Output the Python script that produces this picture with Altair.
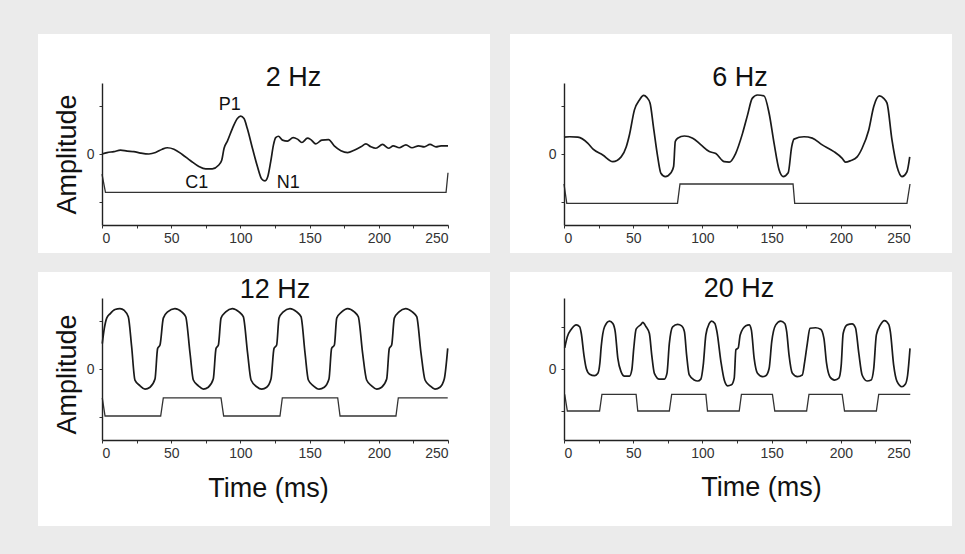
import altair as alt
import pandas as pd

FONT = "Liberation Sans"

# ---------------- data ----------------
# 2 Hz response
t2 = [0, 3.7, 8.6, 13.4, 18.2, 23, 27.9, 33.9, 38.7, 43.5, 47.2, 52, 58, 64, 70, 74.9, 79.7, 84, 86.5, 88.2,
      90.6, 94.2, 97.8, 100.2, 102.6, 105, 108.7, 112.3, 115.4, 117.8, 119.8, 121.9, 123.9, 125.5, 127.5, 130.4,
      134, 138.1, 141.2, 144.4, 148.5, 150.9, 154.5, 158.8, 163.7, 167.8, 172.6, 177.5, 182.2, 187.1, 190.7,
      194.3, 197.9, 202.7, 207.1, 210.4, 214.8, 219.6, 224, 228.8, 232.8, 237, 241.3, 245, 250]
v2 = [0.0, 0.03, 0.05, 0.08, 0.06, 0.05, 0.02, 0.0, 0.03, 0.10, 0.13, 0.10, -0.01, -0.14, -0.26, -0.31, -0.31,
      -0.24, -0.13, 0.12, 0.27, 0.53, 0.74, 0.79, 0.74, 0.53, 0.12, -0.26, -0.52, -0.56, -0.47, -0.16, 0.19, 0.34,
      0.37, 0.29, 0.27, 0.34, 0.31, 0.24, 0.33, 0.30, 0.21, 0.29, 0.30, 0.17, 0.07, 0.03, 0.08, 0.15, 0.21, 0.15,
      0.12, 0.20, 0.12, 0.17, 0.13, 0.19, 0.13, 0.17, 0.15, 0.20, 0.15, 0.17, 0.17]
st2 = [0, 2.5, 248.6, 250]
sv2 = [-0.42, -0.80, -0.80, -0.39]

# 6 Hz response
t6 = [0, 4, 10, 17.3, 21, 28, 35.3, 41.3, 45, 47.3, 50.9, 54.5, 57.6, 59.8, 62.2, 64.6, 67.7, 70, 73.2, 77.3,
      79.2, 80.4, 82.1, 87, 93, 99, 105, 109.7, 115.8, 119.4, 124, 129, 132.6, 136, 139.8, 144.6, 148.2, 151.8,
      155.4, 158.3, 162, 164.5, 166.2, 173.4, 179.4, 186.6, 195, 201, 203.4, 207, 211.8, 215.4, 220.2, 223.8,
      227.9, 231, 233.4, 237, 240.6, 244.2, 247.8, 249.8]
v6 = [0.35, 0.36, 0.35, 0.22, 0.10, -0.02, -0.16, -0.06, 0.15, 0.40, 0.92, 1.125, 1.22, 1.18, 1.06, 0.57, -0.06,
      -0.40, -0.47, -0.39, -0.26, 0.26, 0.33, 0.375, 0.33, 0.19, 0.05, 0.01, -0.16, -0.17, 0.01, 0.43, 0.81, 1.16,
      1.23, 1.21, 0.85, 0.22, -0.33, -0.47, -0.39, 0.15, 0.31, 0.36, 0.33, 0.19, 0.05, -0.09, -0.17, -0.14, -0.06,
      0.12, 0.5, 0.99, 1.21, 1.16, 1.06, 0.29, -0.26, -0.47, -0.37, -0.06]
st6 = [0, 2, 82, 83.8, 165.5, 166.7, 247.8, 250]
sv6 = [-0.625, -1.03, -1.03, -0.625, -0.625, -1.03, -1.03, -0.625]

# 12 Hz response
t12 = [0.2, 1.7, 3.4, 5.8, 9.4, 13, 16.1, 19, 21.4, 23.8, 27.5, 31.1, 34.7, 38.3, 40.2, 41.9, 44.3, 47.4, 52.7,
       57.6, 60.5, 63.6, 66, 69.6, 73.2, 76.8, 80.4, 82.4, 84.1, 86, 89.4, 94.2, 99, 102.1, 105.2, 107.7, 111.8,
       115.4, 119, 122.1, 124.3, 126.2, 127.9, 131, 135.8, 140.7, 143.8, 146.7, 149.1, 152.7, 156.8, 160.6, 164,
       165.9, 167.9, 169.6, 173.2, 177.5, 182.3, 185.2, 188.3, 191.2, 194.8, 198.5, 202.1, 205.7, 207.6, 209.3,
       211.2, 214.6, 219.4, 224.2, 227.4, 230.5, 233.4, 237, 240.6, 244.2, 247.3, 249.8]
v12 = [0.53, 0.85, 1.06, 1.15, 1.24, 1.26, 1.22, 1.09, 0.47, -0.23, -0.35, -0.42, -0.38, -0.21, 0.43, 0.50, 1.06,
       1.19, 1.26, 1.19, 1.09, 0.33, -0.23, -0.35, -0.42, -0.38, -0.21, 0.43, 0.50, 1.06, 1.19, 1.26, 1.19, 1.09,
       0.33, -0.23, -0.37, -0.42, -0.38, -0.21, 0.43, 0.50, 1.06, 1.19, 1.26, 1.19, 1.09, 0.33, -0.23, -0.35,
       -0.42, -0.38, -0.21, 0.43, 0.50, 1.06, 1.19, 1.26, 1.19, 1.09, 0.33, -0.23, -0.35, -0.42, -0.38, -0.21,
       0.43, 0.50, 1.06, 1.19, 1.26, 1.19, 1.09, 0.33, -0.23, -0.35, -0.42, -0.38, -0.21, 0.43]
st12 = [0.2, 2.2, 42.4, 44.3, 86, 87.9, 128.6, 130.3, 170.3, 172, 212.4, 214.1, 249.8]
sv12 = [-0.60, -0.98, -0.98, -0.60, -0.60, -0.98, -0.98, -0.60, -0.60, -0.98, -0.98, -0.60, -0.60]

# 20 Hz response
t20 = [0.5, 2.4, 5.3, 8.9, 11.3, 12.5, 14.4, 16.1, 18.5, 22.1, 24.5, 25.9, 26.9, 29.3, 32.9, 35.3, 37, 38.9,
       41.3, 43.7, 47.3, 49, 50.4, 52.1, 55.7, 56.9, 59.3, 61.7, 63.4, 65.3, 68.9, 72.5, 74.4, 76.1, 78.5, 82.1,
       85, 87, 88.6, 90.5, 94.1, 96.5, 98.9, 100.6, 102.5, 105, 106.6, 109, 110.5, 113.4, 115.8, 118.2, 121, 123,
       124.2, 125.9, 127.3, 131.4, 133.8, 135.4, 137.4, 139.8, 143.4, 145.8, 148.2, 150.1, 153, 156.6, 159.5,
       160.9, 162.6, 165, 168.6, 172.2, 173.9, 175.8, 177.7, 181.8, 185.4, 187.8, 189.7, 192.1, 195.5, 198.6,
       200.3, 201.7, 204.6, 208.2, 210.6, 213, 215.4, 219, 221.9, 223.8, 225.7, 228.6, 231.5, 234.6, 235.8,
       238.2, 240.6, 244.2, 246.6, 248.3, 250]
v20 = [0.44, 0.67, 0.83, 0.92, 0.88, 0.74, 0.29, 0.01, -0.11, -0.14, -0.09, 0.12, 0.47, 0.88, 1.0, 0.95, 0.78,
       0.22, -0.06, -0.15, -0.15, -0.02, 0.43, 0.83, 0.93, 0.97, 0.88, 0.74, 0.29, -0.09, -0.21, -0.21, -0.09,
       0.53, 0.88, 0.93, 0.90, 0.78, 0.29, -0.125, -0.23, -0.25, -0.21, 0.08, 0.71, 0.95, 1.0, 0.95, 0.78, 0.15,
       -0.23, -0.35, -0.33, -0.19, 0.40, 0.44, 0.71, 0.90, 0.92, 0.81, 0.22, -0.09, -0.16, -0.14, 0.01, 0.57,
       0.92, 1.0, 0.95, 0.78, 0.29, -0.09, -0.16, -0.125, 0.15, 0.53, 0.85, 0.86, 0.83, 0.64, 0.12, -0.16, -0.23,
       -0.19, 0.08, 0.74, 0.92, 0.94, 0.86, 0.33, -0.125, -0.25, -0.23, 0.01, 0.71, 0.92, 1.01, 0.93, 0.78, 0.08,
       -0.26, -0.37, -0.32, -0.125, 0.43]
st20 = [0.5, 2.4, 25.7, 27.4, 52.1, 53.3, 76.1, 77.8, 102.5, 103.7, 126.6, 128.2, 150.6, 152.3, 175.3, 177,
        201, 202.7, 225.7, 227.4, 250.2]
sv20 = [-0.53, -0.875, -0.875, -0.53, -0.53, -0.875, -0.875, -0.53, -0.53, -0.875, -0.875, -0.53, -0.53,
        -0.875, -0.875, -0.53, -0.53, -0.875, -0.875, -0.53, -0.53]

# panel titles and peak labels: text, time, amplitude, font size
titles = ["2 Hz", "6 Hz", "12 Hz", "20 Hz"]
title_t = [138.4, 127.2, 125.0, 126.4]
title_v = [1.417, 1.417, 1.49, 1.5]
peak_labels = ["P1", "C1", "N1"]
peak_t = [92.3, 68.4, 134.6]
peak_v = [0.92, -0.71, -0.71]

x_ticks = [0, 25, 50, 75, 100, 125, 150, 175, 200, 225, 250]
y_tick = [1.0, 1.0, 1.0, 0.875]

W, H = 346, 142


def panel(i, rt, rv, stt, stv, texts, left, bottom):
    resp = pd.DataFrame({"t": rt, "v": rv})
    stim = pd.DataFrame({"t": stt, "v": stv})
    txt = pd.DataFrame(texts)

    xa = dict(values=x_ticks, labelExpr="datum.value % 50 == 0 ? datum.label : ''",
              grid=False, tickSize=3, labelPadding=3, labelFontSize=14, zindex=2)
    if bottom:
        xa.update(title="Time (ms)", titleX=166 if left else 197, titleY=56 if left else 55,
                  titleBaseline="alphabetic", titleAlign="center")
    else:
        xa.update(title="")
    ya = dict(values=[-y_tick[i], 0, y_tick[i]], labelExpr="datum.value == 0 ? '0' : ''",
              grid=False, tickSize=3, labelPadding=5, labelFontSize=14, zindex=2)
    if left:
        ya.update(title="Amplitude", titleX=-27, titleY=71 if not bottom else 76, titleAngle=270,
                  titleBaseline="alphabetic", titleAlign="center")
    else:
        ya.update(title="")

    X = alt.X("t:Q", scale=alt.Scale(domain=[0, 250], nice=False, zero=False), axis=alt.Axis(**xa))
    Y = alt.Y("v:Q", scale=alt.Scale(domain=[-1.48, 1.48], nice=False, zero=False), axis=alt.Axis(**ya))

    rx1 = -64 if left else -54
    ry1, ry2 = (-26, 228) if bottom else (-49, 170)
    bg = alt.Chart(alt.Data(values=[{"a": 1}])).mark_rect(color="white").encode(
        x=alt.value(rx1), x2=alt.value(388), y=alt.value(ry1), y2=alt.value(ry2))

    l1 = alt.Chart(resp).mark_line(color="#1a1a1a", strokeWidth=1.7, interpolate="monotone").encode(
        x=X, y=Y, order="t:Q")
    l2 = alt.Chart(stim).mark_line(color="#333333", strokeWidth=1.3).encode(x=X, y=Y, order="t:Q")
    tx = alt.Chart(txt).mark_text(font=FONT, color="#111111", baseline="alphabetic", align="center").encode(
        x=X, y=Y, text="label:N", size=alt.Size("fs:Q", scale=None))
    return alt.layer(bg, l1, l2, tx).properties(width=W, height=H)


def texts_for(i, with_peaks=False):
    rows = [{"t": title_t[i], "v": title_v[i], "label": titles[i], "fs": 27}]
    if with_peaks:
        for lab, tt, vv in zip(peak_labels, peak_t, peak_v):
            rows.append({"t": tt, "v": vv, "label": lab, "fs": 18})
    return rows


p1 = panel(0, t2, v2, st2, sv2, texts_for(0, True), True, False)
p2 = panel(1, t6, v6, st6, sv6, texts_for(1), False, False)
p3 = panel(2, t12, v12, st12, sv12, texts_for(2), True, True)
p4 = panel(3, t20, v20, st20, sv20, texts_for(3), False, True)

chart = alt.concat(p1, p2, p3, p4, columns=2, spacing={"row": 73, "column": 116}, bounds="flush").configure(
    background="#ebebeb",
    padding={"left": 38, "top": 34, "right": 13, "bottom": 28},
    autosize=alt.AutoSizeParams(type="pad"),
).configure_view(stroke=None).configure_axis(
    domainColor="#222222", domainWidth=1.4, tickColor="#333333", tickWidth=1,
    labelFont=FONT, labelColor="#333333", titleFont=FONT, titleFontSize=27,
    titleFontWeight="normal", titleColor="#111111",
)

chart.save("out.html", embed_options={"renderer": "svg", "actions": False})
